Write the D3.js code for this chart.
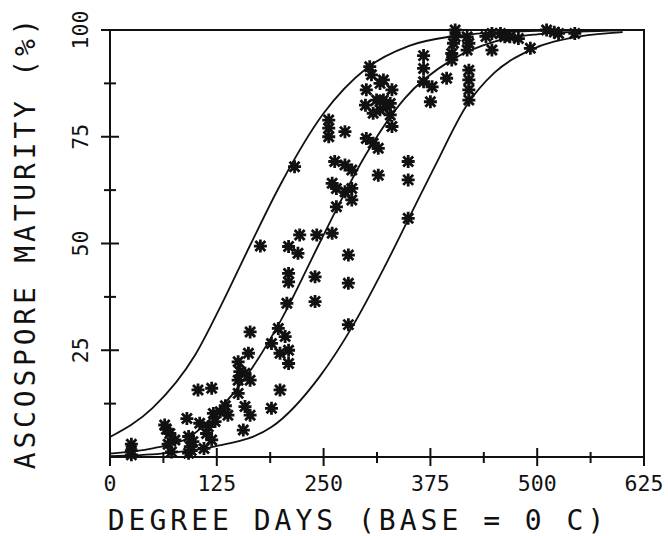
<!DOCTYPE html>
<html>
<head>
<meta charset="utf-8">
<script src="https://cdn.jsdelivr.net/npm/d3@7"></script>
<style>
  body { margin: 0; background: #fff; }
  text { font-family: "DejaVu Sans Mono", monospace; fill: #111; }
</style>
</head>
<body>
<svg id="chart" width="668" height="536"></svg>
<script>
// observed ascospore maturity (degree days, %)
const degreeDays = [
    25, 25, 25,
    64, 66, 70, 76, 72, 68,
    90, 92, 94, 92, 97, 95,
    105, 103, 119, 113, 119, 110,
    121, 129, 138, 123, 115, 135,
    164, 162, 150, 152, 150, 164, 158, 150, 158, 164, 156,
    189, 199, 197, 189, 205, 209, 209, 199, 207, 240,
    176, 216, 256, 256, 256, 275,
    263, 275, 283, 314, 349, 349,
    260, 265, 275, 283, 283, 265, 349,
    260, 242, 222, 209, 220, 279, 209, 209, 240, 279, 279,
    299, 316, 324, 328, 308, 330, 300, 308, 314,
    304, 306, 320, 300, 312, 316, 330, 328, 320,
    367, 367, 367, 377, 375, 394,
    420, 420, 420, 420,
    404, 404, 402, 400, 400, 418, 418, 420,
    447, 457, 468, 447, 440, 462,
    511, 525, 544, 492, 520, 478
];
const maturity = [
    3, 1.5, 0.5,
    7.5, 6.5, 5.5, 4, 1.2, 3,
    9, 4.8, 2.4, 0.9, 3.6, 1.5,
    7.9, 15.7, 16.1, 5.5, 4, 2,
    10.2, 10.6, 9.8, 8.3, 7.1, 12,
    29.3, 24.3, 22.3, 20, 18, 18, 19.6, 14.9, 11.8, 9.8, 6.3,
    11.4, 15.7, 30.1, 26.6, 28.2, 25, 21.9, 24.3, 36, 36.4,
    49.4, 68, 78.9, 77, 75, 76.2,
    69.2, 68.4, 67.2, 66, 69.2, 64.9,
    64.1, 62.9, 62.1, 62.9, 60.2, 58.6, 55.9,
    52.4, 52, 52, 49.3, 47.7, 47.3, 43, 41, 42.2, 40.7, 31,
    82.4, 81.3, 82, 80.1, 80.5, 77.4, 74.6, 73.5, 72.3,
    91.4, 89.5, 88.3, 86, 83.6, 87.5, 86, 82.8, 83.6,
    94, 91, 87.9, 86.7, 83.2, 88.7,
    90.6, 88.3, 86, 83.6,
    100, 98.4, 96.9, 94.5, 93, 98.4, 95.3, 96.9,
    99.2, 99.2, 98.4, 95.3, 98.5, 98.4,
    100, 99.2, 99.2, 95.7, 99.5, 98
];

// the three model curves
const leftCurveX = [0, 50, 100, 130, 165, 200, 250, 300, 350, 400, 450, 500, 550, 600];
const leftCurveY = [4.7, 11.5, 24, 35.5, 50, 64, 80.5, 91, 96.3, 98.5, 99.4, 99.8, 99.9, 100];
const midCurveX = [0, 50, 92, 125, 160, 200, 245, 260, 300, 345, 400, 450, 500, 550, 600];
const midCurveY = [0.8, 2, 4.5, 10.5, 19, 32, 50, 56, 71, 84, 93, 97.3, 99, 99.6, 99.9];
const rightCurveX = [0, 60, 123, 189, 246, 285, 320, 350, 380, 418, 450, 492, 550, 600];
const rightCurveY = [0.2, 0.8, 2.5, 7, 19, 31, 44, 56, 68, 82.5, 90, 95.3, 98.5, 99.5];

const xMajorTicks = [0, 125, 250, 375, 500, 625];
const xMinorTicks = [62.5, 187.5, 312.5, 437.5, 562.5];
const yMajorTicks = [25, 50, 75, 100];
const yMinorTicks = [12.5, 37.5, 62.5, 87.5];

const svg = d3.select("#chart");
const ink = "#111";

const x = d3.scaleLinear().domain([0, 625]).range([110, 644]);
const y = d3.scaleLinear().domain([0, 100]).range([457, 30]);

// frame
svg.append("path")
    .attr("d", `M${x(0)},${y(0)} V${y(100)} H${x(625)} V${y(0)} Z`)
    .attr("fill", "none")
    .attr("stroke", ink)
    .attr("stroke-width", 2);

// ticks cross the axis lines
const tickG = svg.append("g").attr("stroke", ink).attr("stroke-width", 2);
tickG.selectAll(".xmaj").data(xMajorTicks).join("line")
    .attr("x1", d => x(d)).attr("x2", d => x(d))
    .attr("y1", y(0) - 9).attr("y2", y(0) + 9);
tickG.selectAll(".xmin").data(xMinorTicks).join("line")
    .attr("x1", d => x(d)).attr("x2", d => x(d))
    .attr("y1", y(0) - 5).attr("y2", y(0) + 6);
tickG.selectAll(".ymaj").data(yMajorTicks).join("line")
    .attr("x1", x(0) - 9).attr("x2", d => d === 100 ? x(0) : x(0) + 9)
    .attr("y1", d => y(d)).attr("y2", d => y(d));
tickG.selectAll(".ymin").data(yMinorTicks).join("line")
    .attr("x1", x(0) - 6).attr("x2", x(0) + 6)
    .attr("y1", d => y(d)).attr("y2", d => y(d));

// tick labels
svg.append("g").selectAll("text").data(xMajorTicks).join("text")
    .attr("x", d => x(d))
    .attr("y", 491)
    .attr("text-anchor", "middle")
    .style("font-size", "21.5px")
    .text(d => d);

svg.append("g").selectAll("text").data(yMajorTicks).join("text")
    .attr("transform", d => `translate(88, ${y(d)}) rotate(-90)`)
    .attr("text-anchor", "middle")
    .style("font-size", "21.5px")
    .text(d => d);

// axis titles
svg.append("text")
    .attr("x", 358)
    .attr("y", 530)
    .attr("text-anchor", "middle")
    .style("font-size", "28px")
    .style("letter-spacing", "4px")
    .text("DEGREE DAYS (BASE = 0 C)");

svg.append("text")
    .attr("transform", "translate(35, 242) rotate(-90)")
    .attr("text-anchor", "middle")
    .style("font-size", "28px")
    .style("letter-spacing", "3.8px")
    .text("ASCOSPORE MATURITY (%)");

// curves
const line = d3.line()
    .x(d => x(d[0]))
    .y(d => y(d[1]))
    .curve(d3.curveMonotoneX);

[[leftCurveX, leftCurveY], [midCurveX, midCurveY], [rightCurveX, rightCurveY]].forEach(([cx, cy]) => {
    svg.append("path")
        .datum(d3.zip(cx, cy))
        .attr("d", line)
        .attr("fill", "none")
        .attr("stroke", ink)
        .attr("stroke-width", 1.8);
});

// asterisk markers
const r = 6.5, rd = 5;
const star = `M0,${-r}V${r}M${-r},0H${r}M${-rd},${-rd}L${rd},${rd}M${-rd},${rd}L${rd},${-rd}`;
svg.append("g").selectAll("path")
    .data(d3.zip(degreeDays, maturity))
    .join("path")
    .attr("transform", d => `translate(${x(d[0])}, ${y(d[1])})`)
    .attr("d", star)
    .attr("fill", "none")
    .attr("stroke", ink)
    .attr("stroke-width", 2.8);
</script>
</body>
</html>
